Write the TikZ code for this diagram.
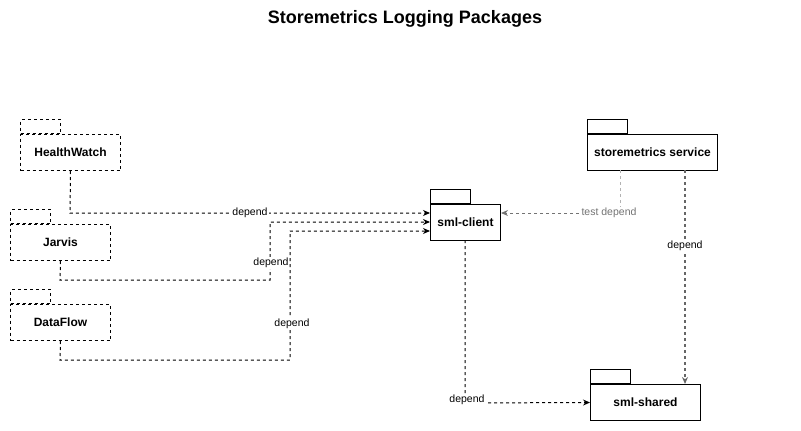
\documentclass[tikz,border=0pt]{standalone}
\usepackage{fontspec}
\setmainfont{Liberation Sans}
\usetikzlibrary{arrows.meta}
\begin{document}
\begin{tikzpicture}[x=1pt,y=-1pt,
  dsh/.style={dash pattern=on 3pt off 3pt},
  pkgbody/.style={draw,line width=1pt,minimum height=36pt,anchor=north west,inner sep=0pt,font=\fontsize{12}{14}\selectfont\bfseries},
  pkgtab/.style={draw,line width=1pt,minimum width=40pt,minimum height=14pt,anchor=south west,inner sep=0pt},
  conn/.style={dsh,line width=1pt,-{Stealth[length=7pt,width=6pt]}},
  lbl/.style={fill=white,inner sep=1pt,font=\fontsize{10.5}{12}\selectfont}
]
\useasboundingbox (0,0) rectangle (801,431);
\node[font=\fontsize{18}{21}\selectfont\bfseries] (title) at (405,19) {Storemetrics Logging Packages};

% packages
\node[pkgbody,dsh,minimum width=100pt] (hw) at (20,134) {HealthWatch};
\node[pkgtab,dsh] (hwt) at (hw.north west) {};
\node[pkgbody,dsh,minimum width=100pt] (jv) at (10,224) {Jarvis};
\node[pkgtab,dsh] (jvt) at (jv.north west) {};
\node[pkgbody,dsh,minimum width=100pt] (df) at (10,304) {DataFlow};
\node[pkgtab,dsh] (dft) at (df.north west) {};
\node[pkgbody,minimum width=70pt] (sc) at (430,204) {sml-client};
\node[pkgtab] (sct) at (sc.north west) {};
\node[pkgbody,minimum width=130pt] (ss) at (587,134) {storemetrics service};
\node[pkgtab] (sst) at (ss.north west) {};
\node[pkgbody,minimum width=110pt] (sh) at (590,384) {sml-shared};
\node[pkgtab] (sht) at (sh.north west) {};

% coordinates
\coordinate (sc1) at (430,213);
\coordinate (sc2) at (430,222);
\coordinate (sc3) at (430,231);

\draw[conn] (hw.south) -- (70,213) -- (sc1)
  node[lbl,pos=0.5] {depend};
\draw[conn] (jv.south) -- (60,280) -- (270,280) -- (270,222) -- (sc2);
\node[lbl] (l2) at (271,263) {depend};
\draw[conn] (df.south) -- (60,360) -- (290,360) -- (290,231) -- (sc3);
\node[lbl] (l3) at (292,324) {depend};

% test depend
\draw[dsh,line width=1pt,color=black!30] (620,170) -- (620,213) -- (606,213);
\draw[dsh,line width=1pt,color=black!55,-{Stealth[length=7pt,width=6pt]}] (585,213) -- (sc.east |- 0,213);
\node[lbl,text=black!55] (l4) at (609,213) {test depend};

% storemetrics -> shared
\draw[dsh,line width=1.6pt,color=black!60,-{Stealth[length=7pt,width=6pt]}] (685,170) -- (sh.north -| 685,0);
\node[lbl] (l5) at (685,246) {depend};

% client -> shared
\draw[conn] (465,240) -- (465,403) -- (sh.west);
\node[lbl] (l6) at (467,400) {depend};
\end{tikzpicture}
\end{document}
